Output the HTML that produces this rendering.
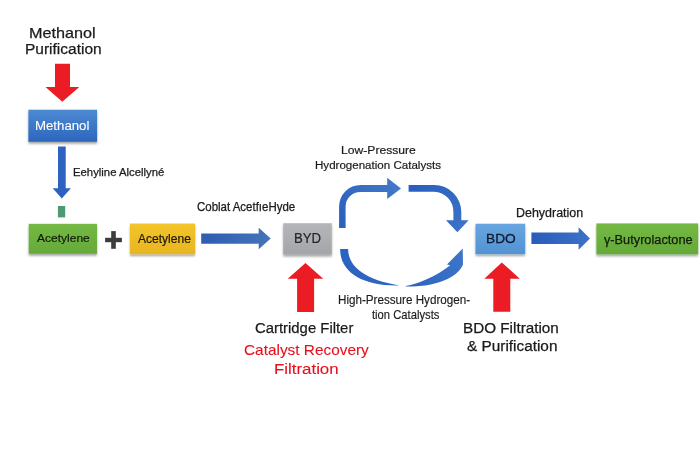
<!DOCTYPE html>
<html><head><meta charset="utf-8"><style>
html,body{margin:0;padding:0;background:#fff;}
body{width:700px;height:466px;position:relative;overflow:hidden;font-family:"Liberation Sans", sans-serif;}
.t{position:absolute;white-space:nowrap;line-height:1.1172;transform-origin:0 0;-webkit-text-stroke:0.25px currentColor;}
svg{position:absolute;left:0;top:0;}
</style></head><body>
<svg width="700" height="466" viewBox="0 0 700 466">
<defs>
<linearGradient id="gBlue" x1="0" y1="0" x2="0" y2="1"><stop offset="0" stop-color="#4d8ad3"/><stop offset="1" stop-color="#2c66bd"/></linearGradient>
<linearGradient id="gGreen" x1="0" y1="0" x2="0" y2="1"><stop offset="0" stop-color="#74b944"/><stop offset="1" stop-color="#65aa39"/></linearGradient>
<linearGradient id="gYellow" x1="0" y1="0" x2="0" y2="1"><stop offset="0" stop-color="#f3c52a"/><stop offset="1" stop-color="#e8b51f"/></linearGradient>
<linearGradient id="gGray" x1="0" y1="0" x2="0" y2="1"><stop offset="0" stop-color="#b5b6ba"/><stop offset="1" stop-color="#a4a5a9"/></linearGradient>
<linearGradient id="gLBlue" x1="0" y1="0" x2="0" y2="1"><stop offset="0" stop-color="#69a6e0"/><stop offset="1" stop-color="#5193d3"/></linearGradient>
<linearGradient id="gArrow" x1="0" y1="0" x2="1" y2="1"><stop offset="0" stop-color="#2d63bd"/><stop offset="1" stop-color="#3b73c4"/></linearGradient>
<filter id="sh" x="-20%" y="-20%" width="140%" height="160%"><feGaussianBlur in="SourceAlpha" stdDeviation="1.2"/><feOffset dy="1.5"/><feComponentTransfer><feFuncA type="linear" slope="0.35"/></feComponentTransfer><feMerge><feMergeNode/><feMergeNode in="SourceGraphic"/></feMerge></filter>
<linearGradient id="gA1" gradientUnits="userSpaceOnUse" x1="201" y1="0" x2="271" y2="0"><stop offset="0" stop-color="#2d5db4"/><stop offset="1" stop-color="#4674b8"/></linearGradient>
<linearGradient id="gA2" gradientUnits="userSpaceOnUse" x1="531" y1="0" x2="590" y2="0"><stop offset="0" stop-color="#2a5bbb"/><stop offset="1" stop-color="#3b73c8"/></linearGradient>
<linearGradient id="gCL" gradientUnits="userSpaceOnUse" x1="342" y1="228" x2="401" y2="188"><stop offset="0" stop-color="#2b60bd"/><stop offset="1" stop-color="#4279c9"/></linearGradient>
<linearGradient id="gCR" gradientUnits="userSpaceOnUse" x1="408" y1="188" x2="457" y2="232"><stop offset="0" stop-color="#2a5ebf"/><stop offset="1" stop-color="#3a72c6"/></linearGradient>
<linearGradient id="gLL" gradientUnits="userSpaceOnUse" x1="344" y1="249" x2="400" y2="286"><stop offset="0" stop-color="#2d63c0"/><stop offset="1" stop-color="#2f66c0"/></linearGradient>
<linearGradient id="gLR" gradientUnits="userSpaceOnUse" x1="405" y1="286" x2="463" y2="250"><stop offset="0" stop-color="#2d62bf"/><stop offset="1" stop-color="#3d76c9"/></linearGradient>
</defs>
<!-- red down arrow -->
<polygon fill="#ec1c24" points="55,63.8 70,63.8 70,87 79.3,87 62.3,101.7 45.5,87 55,87"/>
<!-- Methanol box -->
<rect x="28.4" y="109.7" width="68.7" height="32.1" fill="url(#gBlue)" filter="url(#sh)"/>
<!-- blue down arrow -->
<polygon fill="#2d62bf" points="58,146.6 65.7,146.6 65.7,188.3 70.9,188.3 61.8,198.5 52.7,188.3 58,188.3"/>
<!-- small green rect -->
<rect x="57.9" y="206" width="7.3" height="11.4" fill="#4d9a72"/>
<!-- green box -->
<rect x="28.7" y="223.8" width="68.3" height="30" fill="url(#gGreen)" filter="url(#sh)"/>
<!-- plus -->
<rect x="105.1" y="237.8" width="16.8" height="4.4" fill="#3c3c3c"/>
<rect x="111.2" y="231.1" width="4.6" height="17.7" fill="#3c3c3c"/>
<!-- yellow box -->
<rect x="130" y="223.5" width="65" height="30.6" fill="url(#gYellow)" filter="url(#sh)"/>
<!-- blue right arrow 1 -->
<polygon fill="url(#gA1)" points="201.2,233.4 258.7,233.4 258.7,227.8 270.7,238.5 258.7,249.2 258.7,243.7 201.2,243.7"/>
<!-- BYD box -->
<rect x="283.2" y="223.2" width="48.6" height="31.4" fill="url(#gGray)" filter="url(#sh)"/>
<!-- upper-left curved arrow -->
<path fill="url(#gCL)" d="M339.1,228.1 L339.1,206.4 A21.5,21.5 0 0 1 360.6,184.9 L387.2,184.9 L387.2,177.8 L401,188.5 L387.2,199 L387.2,192 L360.6,192 A14.7,14.7 0 0 0 345.6,206.4 L345.6,228.1 Z"/>
<!-- upper-right curved arrow -->
<path fill="url(#gCR)" d="M408.6,185 L434.3,185 A27,27 0 0 1 461.3,212 L461.3,220.3 L468.6,220.3 L457.4,232.2 L446,220.3 L453.4,220.3 L453.4,212 A19.7,19.7 0 0 0 434.3,191.7 L408.6,191.7 Z"/>
<!-- lower arc left piece -->
<path fill="url(#gLL)" d="M340.1,249.1 L348.1,249.1 C348.1,264.5 362,279.5 399.5,285.4 C362,286.3 340.1,272 340.1,249.1 Z"/>
<!-- lower arc right piece -->
<path fill="url(#gLR)" d="M405.7,286 C418,283.6 436,276.5 450.2,265.2 L447,264.6 L462.7,248.4 L463,264.4 C459.5,273.5 444,286.8 405.7,286.6 Z"/>
<!-- red up arrows -->
<polygon fill="#ec1c24" points="305.5,263 323.2,278.8 314.1,278.8 314.1,312 297.1,312 297.1,278.8 287.7,278.8"/>
<polygon fill="#ec1c24" points="501.8,262.4 519.8,278.8 510.3,278.8 510.3,311.8 493.3,311.8 493.3,278.8 484.3,278.8"/>
<!-- BDO box -->
<rect x="475.5" y="223.7" width="49.7" height="30.4" fill="url(#gLBlue)" filter="url(#sh)"/>
<!-- blue right arrow 2 -->
<polygon fill="url(#gA2)" points="531.4,232.5 578.6,232.5 578.6,227.3 590,238.5 578.6,249.7 578.6,243.9 531.4,243.9"/>
<!-- green box 2 -->
<rect x="596.4" y="223.4" width="101.8" height="30.9" fill="url(#gGreen)" filter="url(#sh)"/>
</svg>

<span class="t" style="left:28.73px;top:25.13px;font-size:15.12px;color:#1a1a1a;-webkit-text-stroke:0.25px #1a1a1a;transform:scaleX(1.0721)">Methanol</span>
<span class="t" style="left:24.88px;top:40.42px;font-size:15.26px;color:#1a1a1a;-webkit-text-stroke:0.25px #1a1a1a;transform:scaleX(1.0162)">Purification</span>
<span class="t" style="left:35.44px;top:120.46px;font-size:12.50px;color:#ffffff;-webkit-text-stroke:0.1px #ffffff;transform:scaleX(1.0580)">Methanol</span>
<span class="t" style="left:73.10px;top:166.21px;font-size:10.90px;color:#1a1a1a;-webkit-text-stroke:0.25px #1a1a1a;transform:scaleX(1.0398)">Eehyline Alcellyné</span>
<span class="t" style="left:37.40px;top:231.29px;font-size:11.77px;color:#121a0c;-webkit-text-stroke:0.2px #121a0c;transform:scaleX(1.0212)">Acetylene</span>
<span class="t" style="left:137.70px;top:232.58px;font-size:12.21px;color:#1c1606;-webkit-text-stroke:0.2px #1c1606;transform:scaleX(0.9868)">Acetylene</span>
<span class="t" style="left:196.70px;top:201.41px;font-size:12.06px;color:#1a1a1a;-webkit-text-stroke:0.25px #1a1a1a;transform:scaleX(0.9524)">Coblat AcetfıeHyde</span>
<span class="t" style="left:293.54px;top:231.18px;font-size:13.81px;color:#262626;-webkit-text-stroke:0.2px #262626;transform:scaleX(0.9556)">BYD</span>
<span class="t" style="left:340.76px;top:143.19px;font-size:11.63px;color:#1a1a1a;-webkit-text-stroke:0.2px #1a1a1a;transform:scaleX(1.0437)">Low-Pressure</span>
<span class="t" style="left:315.01px;top:158.09px;font-size:11.63px;color:#1a1a1a;-webkit-text-stroke:0.2px #1a1a1a;transform:scaleX(0.9944)">Hydrogenation Catalysts</span>
<span class="t" style="left:338.15px;top:293.89px;font-size:12.21px;color:#1a1a1a;-webkit-text-stroke:0.15px #1a1a1a;transform:scaleX(0.9547)">High-Pressure Hydrogen-</span>
<span class="t" style="left:372.30px;top:309.00px;font-size:11.92px;color:#1a1a1a;-webkit-text-stroke:0.15px #1a1a1a;transform:scaleX(0.9437)">tion Catalysts</span>
<span class="t" style="left:485.56px;top:231.71px;font-size:13.23px;color:#0f1a2e;-webkit-text-stroke:0.3px #0f1a2e;transform:scaleX(1.0370)">BDO</span>
<span class="t" style="left:515.70px;top:206.60px;font-size:12.50px;color:#1a1a1a;-webkit-text-stroke:0.25px #1a1a1a;transform:scaleX(0.9970)">Dehydration</span>
<span class="t" style="left:603.60px;top:232.82px;font-size:13.08px;color:#121a0c;-webkit-text-stroke:0.25px #121a0c;transform:scaleX(0.9747)">γ-Butyrolactone</span>
<span class="t" style="left:254.60px;top:319.32px;font-size:15.26px;color:#1a1a1a;-webkit-text-stroke:0.25px #1a1a1a;transform:scaleX(0.9752)">Cartridge Filter</span>
<span class="t" style="left:243.50px;top:342.29px;font-size:15.12px;color:#e6101c;-webkit-text-stroke:0.1px #e6101c;transform:scaleX(1.0179)">Catalyst Recovery</span>
<span class="t" style="left:273.86px;top:360.93px;font-size:14.83px;color:#e6101c;-webkit-text-stroke:0.1px #e6101c;transform:scaleX(1.1364)">Filtration</span>
<span class="t" style="left:463.29px;top:321.41px;font-size:13.81px;color:#1a1a1a;-webkit-text-stroke:0.25px #1a1a1a;transform:scaleX(1.1059)">BDO Filtration</span>
<span class="t" style="left:466.50px;top:338.71px;font-size:13.81px;color:#1a1a1a;-webkit-text-stroke:0.25px #1a1a1a;transform:scaleX(1.1123)">&amp; Purification</span>
</body></html>
